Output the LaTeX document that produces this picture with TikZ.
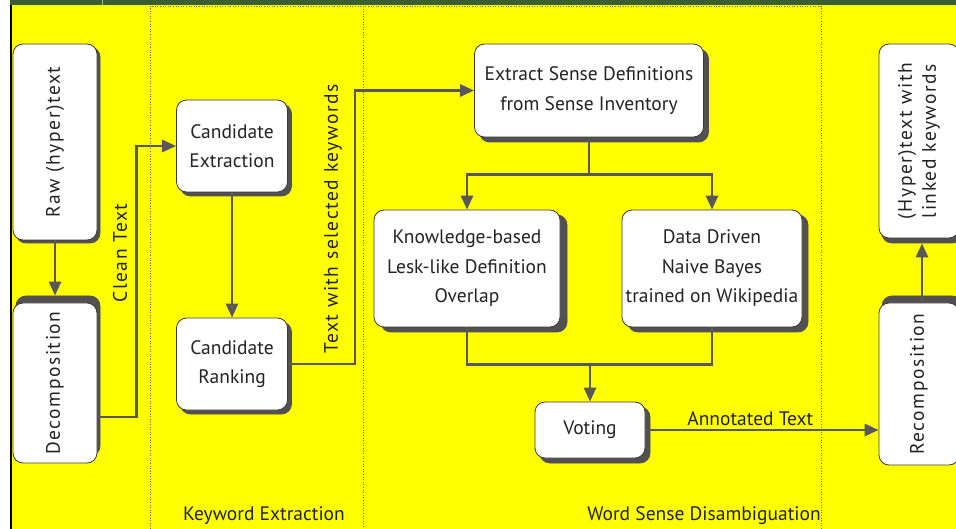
\documentclass[tikz,border=0pt]{standalone}
\usepackage{fontspec}
\setmainfont{PT Sans}
\newfontfamily\spaced[LetterSpace=8]{PT Sans}
\usetikzlibrary{positioning}
\usetikzlibrary{arrows.meta}
\definecolor{bgyellow}{RGB}{255,255,0}
\definecolor{bandgreen}{RGB}{58,94,52}
\definecolor{tickgreen}{RGB}{150,200,130}
\definecolor{linegrey}{RGB}{90,87,87}
\definecolor{boxline}{RGB}{60,58,58}
\definecolor{shadegrey}{RGB}{82,80,80}
\definecolor{inkgrey}{RGB}{35,35,35}
\definecolor{laneline}{RGB}{110,105,70}
\newcommand{\vtext}[1]{\rotatebox{90}{\begin{tabular}{@{}c@{}}#1\end{tabular}}}
\tikzset{
    stepbox/.style = {rectangle, rounded corners=10pt, draw=boxline, line width=0.8pt,
        fill=white, text=inkgrey, align=center, inner sep=2pt,
        font=\fontsize{19.5}{29.5}\selectfont},
    upbox/.style = {stepbox, font=\spaced\fontsize{19.5}{24}\selectfont, minimum width=84pt},
    shade/.style 2 args = {preaction={fill=shadegrey, draw=shadegrey, line width=0.8pt,
        transform canvas={xshift=#1, yshift=#2}}},
    sunk/.style = {shade={5pt}{-5pt}},
    raised/.style = {shade={3pt}{7pt}},
    tag/.style = {text=inkgrey, font=\fontsize{19.5}{22}\selectfont},
    vtag/.style = {text=inkgrey, rotate=90, font=\spaced\fontsize{19.5}{22}\selectfont},
    lane/.style = {laneline, line width=0.9pt, dash pattern=on 1pt off 1.6pt}}

\begin{document}
\begin{tikzpicture}[x=1pt, y=-1pt, on grid,
    flow/.style = {draw=linegrey, line width=2.8pt, -{Triangle[length=14pt,width=12pt]}},
    wire/.style = {draw=linegrey, line width=2.8pt}
    ]
    \useasboundingbox (0,0) rectangle (956,529);
    % page, band and lanes
    \fill[white] (0,0) rectangle (956,529);
    \fill[bgyellow] (12,5) rectangle (956,529);
    \fill[bandgreen] (10,0) rectangle (956,5);
    \fill[tickgreen] (101.5,0) rectangle (103,5);
    \draw[black, line width=1.6pt] (11,5) -- (11,529);
    \draw[lane] (150,529) -- (150,6) -- (821,6) -- (821,529);
    \draw[lane] (363,6) -- (363,529);

    % steps
    \node[upbox, shade={3pt}{-3pt}, minimum height=196pt] (raw) at (55,142) {\vtext{Raw (hyper)text}};
    \node[upbox, raised, minimum height=160pt] (dec) [below = 241pt of raw] {\vtext{Decomposition}};
    \node[stepbox, shade={4pt}{-4pt}, minimum width=111pt, minimum height=92pt] (cext) at (232,146) {Candidate\\Extraction};
    \node[stepbox, shade={4pt}{-4pt}, minimum width=111pt, minimum height=92pt] (crank) [below = 218pt of cext] {Candidate\\Ranking};
    \node[stepbox, sunk, minimum width=229pt, minimum height=93pt] (sense) at (589,90.5) {Extract Sense Definitions\\from Sense Inventory};
    \node[stepbox, shade={7pt}{-5pt}, minimum width=186pt, minimum height=117pt] (lesk) at (467,268.5) {Knowledge-based\\Lesk-like Definition\\Overlap};
    \node[stepbox, shade={6pt}{-5pt}, minimum width=180pt, minimum height=117pt] (bayes) [right = 245pt of lesk] {Data Driven\\Naive Bayes\\trained on Wikipedia};
    \node[stepbox, sunk, minimum width=110pt, minimum height=56pt] (vote) at (590,430) {Voting};
    \node[upbox, shade={3pt}{-5pt}, minimum width=80pt, minimum height=194pt] (out) at (919,141) {\vtext{(Hyper)text with\\linked keywords}};
    \node[upbox, raised, minimum width=80pt, minimum height=162pt] (rec) [below = 243pt of out] {\vtext{Recomposition}};

    % labels
    \node[vtag] (cleanlbl) at (120,253) {Clean Text};
    \node[vtag] (kwlbl) at (333,219) {Text with selected keywords};
    \node[tag] (kelbl) at (264,516) {Keyword Extraction};
    \node[tag] (wsdlbl) at (704,516) {Word Sense Disambiguation};

    % connectors
    \draw[flow, shorten >=7pt] (raw.south) -- (dec.north);
    \draw[flow] ([yshift=-34pt]dec.east) -- ++(39,0) |- (cext.west);
    \draw[flow] (cext) -- (crank);
    \draw[flow] (crank.east) -- ++(67,0) |- (sense.west);
    \draw[flow] (sense.south) -- ++(0,37) coordinate (fork) -| (lesk.north);
    \draw[flow] (fork) -| (bayes.north);
    \draw[wire] (lesk.south) -- ++(0,37) coordinate (merge) -| (bayes.south);
    \draw[flow] (merge -| vote.north) -- (vote.north);
    \draw[flow] (vote.east) -- (vote.east -| rec.west) node[tag, above, pos=.45] (annlbl) {Annotated Text};
    \draw[flow, shorten >=5pt] ([xshift=3pt]rec.north) -- ([xshift=3pt]out.south);
\end{tikzpicture}
\end{document}
